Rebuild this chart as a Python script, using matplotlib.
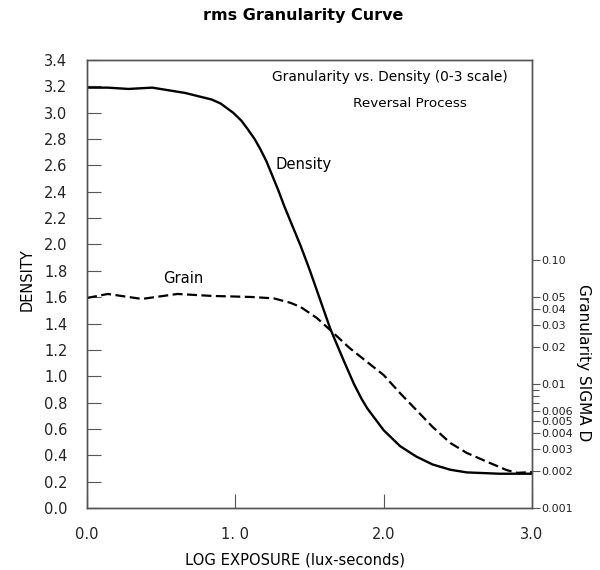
import numpy as np
import matplotlib
matplotlib.use("Agg")
import matplotlib.pyplot as plt
import matplotlib.ticker as ticker

# Density curve (left axis)
dens_x = [0.0, 0.14, 0.28, 0.44, 0.66, 0.84, 0.90, 0.985, 1.04, 1.08, 1.13,
          1.17, 1.21, 1.25, 1.29, 1.33, 1.44, 1.50, 1.55, 1.64, 1.73, 1.80,
          1.85, 1.89, 1.95, 2.0, 2.11, 2.22, 2.33, 2.45, 2.56, 2.78, 3.0]
dens_y = [3.19, 3.19, 3.18, 3.19, 3.15, 3.10, 3.07, 3.00, 2.94, 2.88, 2.80,
          2.72, 2.63, 2.52, 2.41, 2.29, 1.99, 1.81, 1.65, 1.36, 1.12, 0.94,
          0.83, 0.755, 0.665, 0.59, 0.47, 0.39, 0.33, 0.29, 0.27, 0.26, 0.26]

# Grain curve (rms granularity, right log axis)
grain_x = [0.0, 0.14, 0.37, 0.61, 0.84, 1.11, 1.26, 1.37, 1.44, 1.55, 1.64,
           1.77, 1.89, 2.0, 2.11, 2.22, 2.33, 2.45, 2.56, 2.70, 2.83, 2.90,
           3.0]
grain_sigma = [0.0494, 0.0532, 0.0485, 0.0532, 0.0513, 0.0503, 0.0490,
               0.0452, 0.0418, 0.0340, 0.0272, 0.0195, 0.0150, 0.0118,
               0.00845, 0.00617, 0.00450, 0.00334, 0.00278, 0.00235,
               0.00202, 0.00192, 0.00195]

x_ticks = [0.0, 1.0, 2.0, 3.0]
x_ticklabels = ["0.0", "1. 0", "2.0", "3.0"]
dens_ticks = np.round(np.arange(0, 3.41, 0.2), 1)
sigma_ticks = [0.001, 0.002, 0.003, 0.004, 0.005, 0.006, 0.01, 0.02, 0.03,
               0.04, 0.05, 0.10]
sigma_ticklabels = ["0.001", "0.002", "0.003", "0.004", "0.005", "0.006",
                    "0.01", "0.02", "0.03", "0.04", "0.05", "0.10"]
sigma_minor = [0.007, 0.008, 0.009]

spine_c = "#555555"

fig = plt.figure(figsize=(6, 5.7), dpi=100)
ax = fig.add_axes([0.145, 0.1088, 0.7417, 0.786])
ax2 = ax.twinx()

ax.plot(dens_x, dens_y, color="black", lw=1.7, solid_capstyle="butt")
ax2.plot(grain_x, grain_sigma, color="black", lw=1.6, ls=(0, (4.5, 2)))

ax.set_xlim(0, 3.0)
ax.set_ylim(0, 3.4)
ax2.set_yscale("log")
ax2.set_ylim(0.001, 10 ** 0.613)

ax.set_xticks(x_ticks)
ax.set_xticklabels(x_ticklabels)
ax.set_yticks(dens_ticks)
ax.yaxis.set_major_formatter(ticker.FormatStrFormatter("%.1f"))
ax.tick_params(direction="in", length=10, width=0.8, color=spine_c,
               labelsize=10.5, labelcolor="#222222")
ax.tick_params(axis="y", pad=14)
ax.tick_params(axis="x", pad=14)

ax2.yaxis.set_major_locator(ticker.FixedLocator(sigma_ticks))
ax2.yaxis.set_major_formatter(ticker.FixedFormatter(sigma_ticklabels))
ax2.yaxis.set_minor_locator(ticker.FixedLocator(sigma_minor))
ax2.yaxis.set_minor_formatter(ticker.NullFormatter())
ax2.tick_params(which="major", direction="out", length=6, width=0.8,
                color=spine_c, labelsize=8, pad=1, labelcolor="#222222")
ax2.tick_params(which="minor", direction="out", length=5, width=0.8,
                color=spine_c)

for a in (ax, ax2):
    for s in a.spines.values():
        s.set_color(spine_c)
        s.set_linewidth(1.0)

ax.set_xlabel("LOG EXPOSURE (lux-seconds)", fontsize=10.6, va="center")
ax.xaxis.set_label_coords(0.467, -0.116)
ax.set_ylabel("DENSITY", fontsize=10.5, va="center")
ax.yaxis.set_label_coords(-0.135, 0.509)
ax2.set_ylabel("Granularity SIGMA D", fontsize=11, rotation=270,
               va="center", ha="center")
ax2.yaxis.set_label_coords(1.115, 0.324)

ax.text(2.04, 3.27, "Granularity vs. Density (0-3 scale)", fontsize=9.9,
        ha="center", va="center")
ax.text(2.18, 3.07, "Reversal Process", fontsize=9.7, ha="center", va="center")
ax.text(1.46, 2.61, "Density", fontsize=10.6, ha="center", va="center")
ax.text(0.65, 1.74, "Grain", fontsize=10.6, ha="center", va="center")

fig.text(0.505, 0.972, "rms Granularity Curve", fontsize=11.5,
         fontweight="bold", ha="center", va="center")

fig.savefig("out.png", dpi=100)
